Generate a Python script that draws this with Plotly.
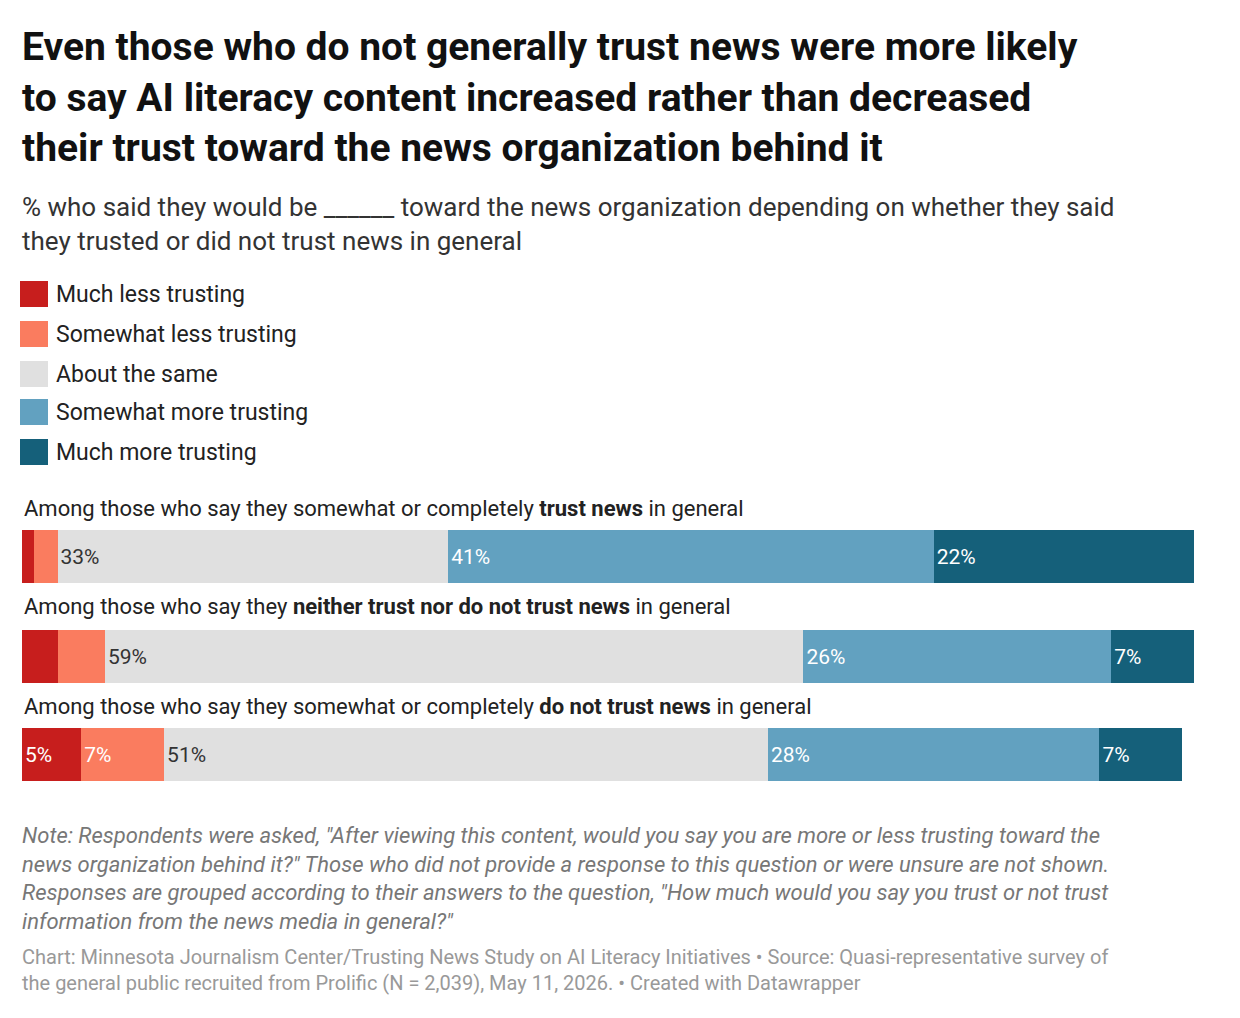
import plotly.graph_objects as go

groups = ["trust", "neither", "distrust"]
group_labels = [
    "Among those who say they somewhat or completely <b>trust news</b> in general",
    "Among those who say they <b>neither trust nor do not trust news</b> in general",
    "Among those who say they somewhat or completely <b>do not trust news</b> in general",
]
series = ["Much less trusting", "Somewhat less trusting", "About the same",
          "Somewhat more trusting", "Much more trusting"]
much_less = [1, 3, 5]
somewhat_less = [2, 4, 7]
same = [33, 59, 51]
somewhat_more = [41, 26, 28]
much_more = [22, 7, 7]
show_label = [[False, False, True], [False, False, True], [True, True, True],
              [True, True, True], [True, True, True]]

values = [much_less, somewhat_less, same, somewhat_more, much_more]
colors = ["#c71e1d", "#fa7c5f", "#e0e0e0", "#62a1c0", "#15607a"]
text_colors = ["white", "white", "#333333", "white", "white"]

# layout positions (y in plot units, 0 = bottom of plot area)
bar_y = [233.5, 133.5, 35.5]
label_y = [282, 184, 84]

W, H = 1240, 1018
L, R, T, B = 22, 1206, 490, 790

fig = go.Figure()
for s, vals, col, tc, sl in zip(series, values, colors, text_colors, show_label):
    fig.add_trace(go.Bar(
        x=vals, y=bar_y, orientation="h", width=53, name=s,
        marker=dict(color=col, line=dict(width=0)),
        text=[f"{v}%" if show else "" for v, show in zip(vals, sl)],
        textposition="inside", insidetextanchor="start",
        textfont=dict(color=tc, size=21, family="Roboto"),
        constraintext="none", cliponaxis=False, hoverinfo="skip",
    ))

F = "Roboto"
for lab, y in zip(group_labels, label_y):
    fig.add_annotation(x=0, y=y, xref="x", yref="y", text=lab, showarrow=False,
                       xanchor="left", yanchor="middle",
                       font=dict(size=22, color="#222", family=F))

def px(p):
    return (p - L) / (R - L)

def py(p):
    return (B - p) / (B - T)

fig.add_annotation(x=px(20), y=py(22), xref="paper", yref="paper", showarrow=False,
                   xanchor="left", yanchor="top", align="left",
                   text="<b>Even those who do not generally trust news were more likely<br>to say AI literacy content increased rather than decreased<br>their trust toward the news organization behind it</b>",
                   font=dict(size=39, color="#111", family=F))
fig.add_annotation(x=px(20), y=py(190), xref="paper", yref="paper", showarrow=False,
                   xanchor="left", yanchor="top", align="left",
                   text="% who said they would be ______ toward the news organization depending on whether they said<br>they trusted or did not trust news in general",
                   font=dict(size=26, color="#333", family=F))
leg_y = [294, 334, 374, 412, 452]
for s, c, yy in zip(series, colors, leg_y):
    fig.add_shape(type="rect", xref="paper", yref="paper", x0=px(20), x1=px(48),
                  y0=py(yy + 13), y1=py(yy - 13), fillcolor=c, line=dict(width=0))
    fig.add_annotation(x=px(54), y=py(yy), xref="paper", yref="paper", showarrow=False,
                       xanchor="left", yanchor="middle", text=s,
                       font=dict(size=23, color="#222", family=F))
fig.add_annotation(x=px(20), y=py(821), xref="paper", yref="paper", showarrow=False,
                   xanchor="left", yanchor="top", align="left",
                   text="<i>Note: Respondents were asked, \"After viewing this content, would you say you are more or less trusting toward the<br>news organization behind it?\" Those who did not provide a response to this question or were unsure are not shown.<br>Responses are grouped according to their answers to the question, \"How much would you say you trust or not trust<br>information from the news media in general?\"</i>",
                   font=dict(size=22, color="#777", family=F))
fig.add_annotation(x=px(20), y=py(943), xref="paper", yref="paper", showarrow=False,
                   xanchor="left", yanchor="top", align="left",
                   text="Chart: Minnesota Journalism Center/Trusting News Study on AI Literacy Initiatives • Source: Quasi-representative survey of<br>the general public recruited from Prolific (N = 2,039), May 11, 2026. • Created with Datawrapper",
                   font=dict(size=20, color="#999", family=F))

fig.update_layout(
    width=W, height=H, barmode="stack", showlegend=False,
    paper_bgcolor="white", plot_bgcolor="white",
    margin=dict(l=L, r=W - R, t=T, b=H - B, pad=0),
    xaxis=dict(range=[0, 100], visible=False, fixedrange=True),
    yaxis=dict(range=[0, 300], visible=False, fixedrange=True),
    font=dict(family=F),
)
fig.write_html("out.html", config={"displayModeBar": False},
               post_script="document.body.style.margin='0';document.body.style.overflow='hidden';")
